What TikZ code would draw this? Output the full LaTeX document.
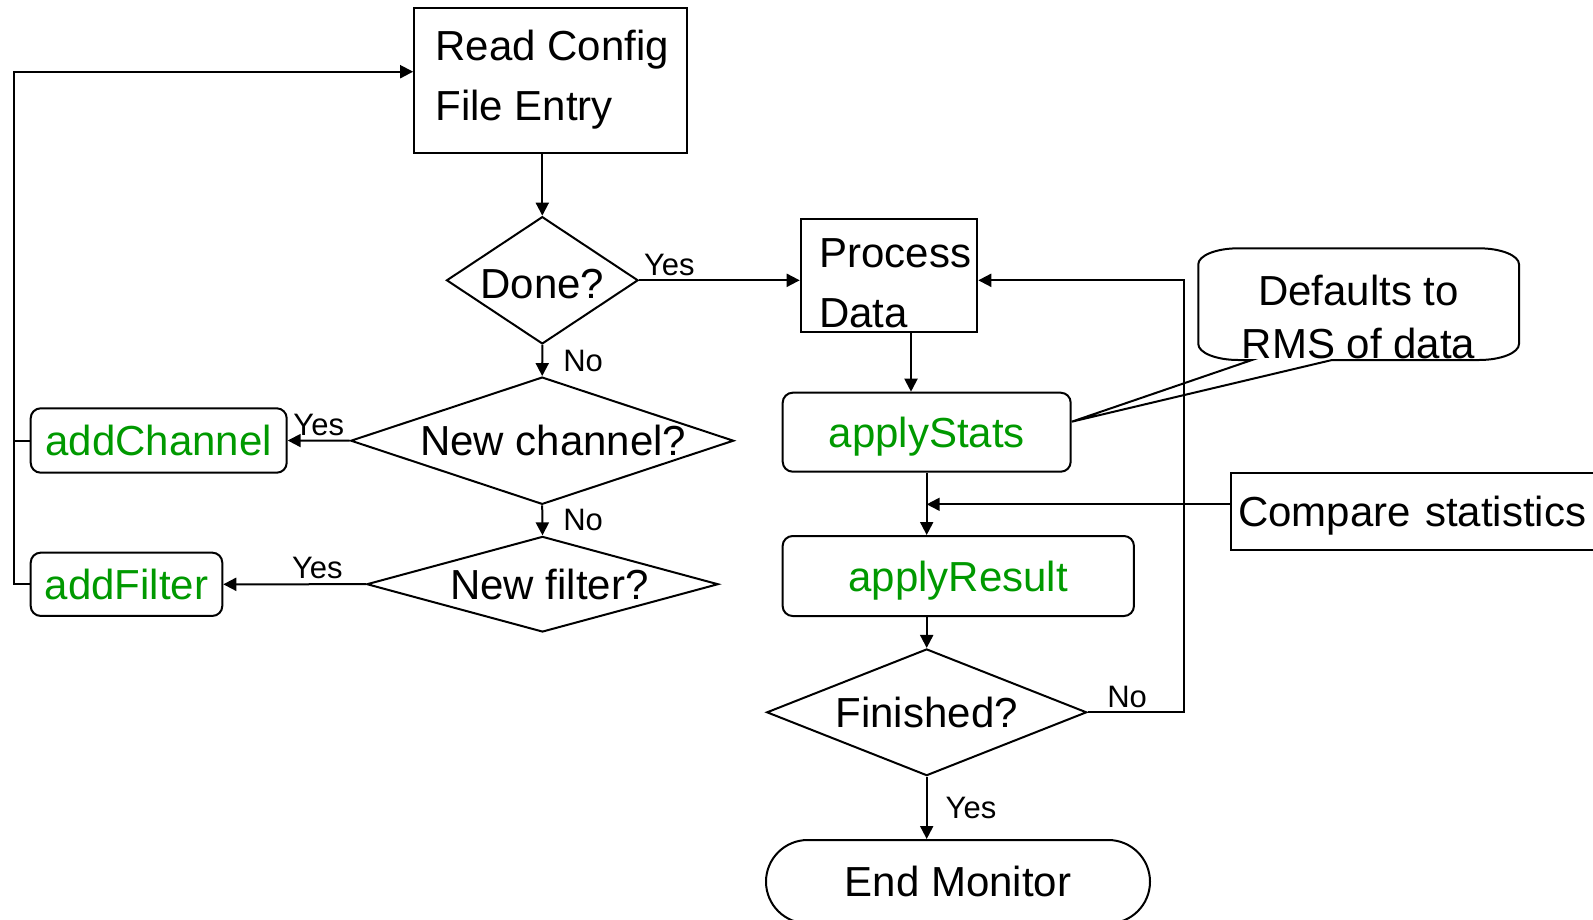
\documentclass[tikz,border=0pt]{standalone}
\usepackage{fontspec}
\setmainfont{Liberation Sans}
\usetikzlibrary{shapes.geometric,shapes.misc,arrows.meta}
\definecolor{stepgreen}{RGB}{0,153,0}
\begin{document}
\begin{tikzpicture}
	[x=1pt,y=-1pt,line width=2pt,>={Triangle[length=13pt,width=13pt]},
	 box/.style={rectangle,draw,inner sep=0pt},
	 txt/.style={inner sep=0pt,align=left,font=\fontsize{42}{60}\selectfont},
	 stepbox/.style={rectangle,rounded corners=10pt,draw,inner sep=0pt,text depth=0pt,text=stepgreen,font=\fontsize{42}{50}\selectfont},
	 decision/.style={diamond,draw,inner sep=0pt,text depth=0pt,font=\fontsize{42}{50}\selectfont},
	 lab/.style={inner sep=4pt,font=\fontsize{31}{37}\selectfont}]
	\useasboundingbox (0,0) rectangle (1593,919);
	\clip (0,0) rectangle (1593,919);
	\node[box,minimum width=272.7pt,minimum height=144.4pt,name=read] at (550.5,80.5) {};
	\node[txt,anchor=north west,name=readtxt] at ([shift={(21.5,22)}]read.north west) {Read Config\\File Entry};
	\node[decision,aspect=1.5,minimum width=191.6pt,minimum height=127.3pt,text height=36pt,name=done] at (542.3,280.3) {Done?};
	\node[decision,aspect=3,minimum width=383pt,minimum height=127.3pt,name=chan] at (542.2,440.7) {\hspace*{22pt}New channel?};
	\node[decision,aspect=3.7,minimum width=351.5pt,minimum height=95.6pt,name=filt] at (542.5,584.2) {\hspace*{14pt}New filter?};
	\node[stepbox,minimum width=256pt,minimum height=64.4pt,name=addch] at (158.7,440.5) {addChannel};
	\node[stepbox,minimum width=191.6pt,minimum height=63.3pt,name=addf] at (126.5,584.3) {addFilter};
	\node[box,minimum width=176.6pt,minimum height=112.7pt,name=pdata] at (889,275.3) {};
	\node[txt,anchor=north west,name=pdatatxt] at ([shift={(18.6,19.3)}]pdata.north west) {Process\\Data};
	\node[stepbox,minimum width=288pt,minimum height=79pt,name=stats] at (926.7,432.2) {applyStats};
	\node[stepbox,minimum width=351.3pt,minimum height=80pt,name=result] at (958.3,576) {applyResult};
	\node[decision,aspect=2.5,minimum width=320pt,minimum height=126.7pt,name=fin] at (926.7,712.3) {Finished?};
	\node[rounded rectangle,draw,inner sep=0pt,minimum width=384pt,minimum height=83.4pt,font=\fontsize{42}{50}\selectfont,name=endm] at (958,881.7) {End Monitor};
	\node[box,anchor=west,text width=355.4pt,inner xsep=7.3pt,minimum height=77.3pt,align=left,text depth=0pt,font=\fontsize{42}{50}\selectfont,name=compare] at (1230,511.3) {Compare statistics};
	\node[align=center,inner sep=0pt,anchor=north,font=\fontsize{42}{52.7}\selectfont,name=note] at (1358.5,274.5) {Defaults to\\RMS of data};
	\draw (1252,360) -- ([yshift=10.5pt]stats.east) -- (1332,360) -- (1479,360)
		.. controls (1501,360) and (1519,352.8) .. (1519,344) -- (1519,264.3)
		.. controls (1519,255.5) and (1501,248.3) .. (1479,248.3) -- (1238.3,248.3)
		.. controls (1216.2,248.3) and (1198.3,255.5) .. (1198.3,264.3) -- (1198.3,344)
		.. controls (1198.3,352.8) and (1216.2,360) .. (1238.3,360) -- cycle;
	\coordinate (loop) at (14,71.7);
	\draw[->] (read.south -| done.north) -- (done.north);
	\draw[->] (done.east) -- node[lab,above right,pos=0]{Yes} (done.east -| pdata.west);
	\draw[->] (done.south) -- node[lab,right=16pt]{No} (chan.north);
	\draw[->] (chan.west) -- node[lab,above]{Yes} (addch.east);
	\draw[->] (chan.south) -- node[lab,right=16pt]{No} (filt.north);
	\draw[->] (filt.west) -- node[lab,above,pos=0.34]{Yes} (addf.east);
	\draw[->] (addf.west) -| (loop) -- (loop -| read.west);
	\draw (addch.west) -- (addch.west -| loop);
	\draw[->] ([xshift=22pt]pdata.south) -- ([xshift=22pt]pdata.south |- stats.north);
	\draw[->] (stats.south) -- (stats.south |- result.north);
	\draw[->] ([yshift=7pt]compare.west) -- ([yshift=7pt]compare.west -| stats.south);
	\draw[->] (fin.north |- result.south) -- (fin.north);
	\draw[->] (fin.east) -- node[lab,above,pos=0.41]{No} ++(96,0) |- (done.east -| pdata.east);
	\draw[->] (fin.south) -- node[lab,right=14pt]{Yes} (fin.south |- endm.north);
\end{tikzpicture}
\end{document}
